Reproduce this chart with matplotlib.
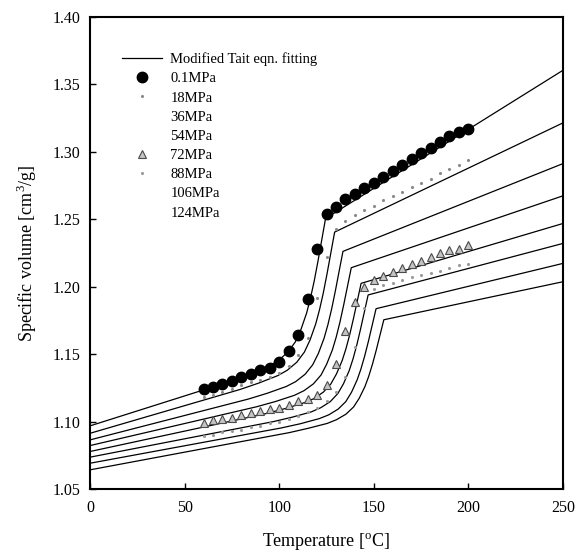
import matplotlib
matplotlib.use('Agg')
import matplotlib.pyplot as plt
from matplotlib.lines import Line2D

plt.rcParams['font.family'] = ['Liberation Serif', 'DejaVu Serif']
plt.rcParams['mathtext.fontset'] = 'custom'
plt.rcParams['mathtext.rm'] = 'Liberation Serif'

# ─── Modified Tait fits, one isobar each (T in degC, v in cm3/g) ──────────────
fit_T_01 = [0, 74.5, 84.5, 94.5, 99.5, 104.5, 108.5, 111.5, 114.5, 116.5, 118.5, 120.5, 122.5, 124.5, 250]
fit_V_01 = [1.0968, 1.1299, 1.1350, 1.1410, 1.1452, 1.1514, 1.1590, 1.1683, 1.1805, 1.1914, 1.2042, 1.2190, 1.2348, 1.2506, 1.3605]
fit_T_18 = [0, 79.3, 89.3, 99.3, 104.3, 109.3, 113.3, 116.3, 119.3, 121.3, 123.3, 125.3, 127.3, 129.3, 250]
fit_V_18 = [1.0913, 1.1238, 1.1286, 1.1341, 1.1381, 1.1440, 1.1515, 1.1605, 1.1724, 1.1829, 1.1953, 1.2097, 1.2251, 1.2405, 1.3215]
fit_T_36 = [0, 83.7, 93.7, 103.7, 108.7, 113.7, 117.7, 120.7, 123.7, 125.7, 127.7, 129.7, 131.7, 133.7, 250]
fit_V_36 = [1.0864, 1.1167, 1.1210, 1.1260, 1.1296, 1.1351, 1.1421, 1.1505, 1.1617, 1.1716, 1.1834, 1.1970, 1.2117, 1.2262, 1.2913]
fit_T_54 = [0, 88.1, 98.1, 108.1, 113.1, 118.1, 122.1, 125.1, 128.1, 130.1, 132.1, 134.1, 136.1, 138.1, 250]
fit_V_54 = [1.0822, 1.1110, 1.1149, 1.1195, 1.1229, 1.1280, 1.1345, 1.1426, 1.1531, 1.1625, 1.1737, 1.1866, 1.2004, 1.2141, 1.2674]
fit_T_72 = [0, 93.3, 103.3, 113.3, 118.3, 123.3, 127.3, 130.3, 133.3, 135.3, 137.3, 139.3, 141.3, 143.3, 250]
fit_V_72 = [1.0778, 1.1060, 1.1097, 1.1140, 1.1170, 1.1218, 1.1279, 1.1354, 1.1453, 1.1541, 1.1646, 1.1767, 1.1896, 1.2025, 1.2469]
fit_T_88 = [0, 97, 107, 117, 122, 127, 131, 134, 137, 139, 141, 143, 145, 147, 250]
fit_V_88 = [1.0736, 1.1000, 1.1033, 1.1072, 1.1103, 1.1148, 1.1208, 1.1281, 1.1378, 1.1464, 1.1567, 1.1686, 1.1812, 1.1939, 1.2321]
fit_T_106 = [0, 101.2, 111.2, 121.2, 126.2, 131.2, 135.2, 138.2, 141.2, 143.2, 145.2, 147.2, 149.2, 151.2, 250]
fit_V_106 = [1.0691, 1.0953, 1.0984, 1.1022, 1.1050, 1.1093, 1.1148, 1.1217, 1.1309, 1.1390, 1.1487, 1.1598, 1.1718, 1.1837, 1.2173]
fit_T_124 = [0, 105.3, 115.3, 125.3, 130.3, 135.3, 139.3, 142.3, 145.3, 147.3, 149.3, 151.3, 153.3, 155.3, 250]
fit_V_124 = [1.0642, 1.0918, 1.0950, 1.0986, 1.1014, 1.1055, 1.1108, 1.1173, 1.1259, 1.1335, 1.1426, 1.1530, 1.1643, 1.1755, 1.2037]

# ─── Measured PVT points ──────────────────────────────────────────────────────
meas_T = [60, 65, 70, 75, 80, 85, 90, 95, 100, 105, 110, 115, 120, 125, 130,
          135, 140, 145, 150, 155, 160, 165, 170, 175, 180, 185, 190, 195, 200]
meas_V_01 = [1.124, 1.126, 1.128, 1.130, 1.133, 1.135, 1.138, 1.140, 1.144, 1.152,
             1.164, 1.191, 1.228, 1.254, 1.259, 1.265, 1.269, 1.273, 1.277, 1.281,
             1.286, 1.290, 1.295, 1.299, 1.303, 1.307, 1.312, 1.315, 1.317]
meas_V_18 = [1.118, 1.120, 1.122, 1.124, 1.127, 1.129, 1.131, 1.133, 1.136, 1.141,
             1.149, 1.162, 1.192, 1.222, 1.243, 1.249, 1.253, 1.257, 1.260, 1.264,
             1.267, 1.270, 1.274, 1.277, 1.280, 1.284, 1.287, 1.290, 1.294]
meas_V_72 = [1.099, 1.101, 1.102, 1.103, 1.105, 1.106, 1.108, 1.109, 1.110, 1.112,
             1.115, 1.117, 1.120, 1.127, 1.143, 1.167, 1.189, 1.200, 1.205, 1.208,
             1.211, 1.214, 1.217, 1.219, 1.222, 1.225, 1.227, 1.228, 1.231]
meas_V_88 = [1.089, 1.090, 1.092, 1.093, 1.094, 1.096, 1.097, 1.099, 1.100, 1.102,
             1.104, 1.107, 1.110, 1.115, 1.122, 1.133, 1.155, 1.184, 1.198, 1.201,
             1.203, 1.205, 1.207, 1.209, 1.210, 1.212, 1.214, 1.216, 1.217]

pressure_labels = ['0.1MPa', '18MPa', '36MPa', '54MPa', '72MPa', '88MPa', '106MPa', '124MPa']

fits = [(fit_T_01, fit_V_01), (fit_T_18, fit_V_18), (fit_T_36, fit_V_36),
        (fit_T_54, fit_V_54), (fit_T_72, fit_V_72), (fit_T_88, fit_V_88),
        (fit_T_106, fit_V_106), (fit_T_124, fit_V_124)]

fig = plt.figure(figsize=(5.85, 5.58), dpi=100)
ax = fig.add_axes([90/585, 1 - 489/558, 473/585, 472/558])

for t, v in fits:
    ax.plot(t, v, color='black', lw=0.9, zorder=2)

# measured symbols
ax.plot(meas_T, meas_V_18, ls='none', marker='.', ms=2.5, color='#8a8a8a', zorder=3)
ax.plot(meas_T, meas_V_88, ls='none', marker='.', ms=2.5, color='#9a9a9a', zorder=3)
ax.plot(meas_T, meas_V_72, ls='none', marker='^', ms=6, mfc='#c4c4c4', mec='#4a4a4a',
        mew=0.8, zorder=4)
ax.plot(meas_T, meas_V_01, ls='none', marker='o', ms=7.5, color='black', zorder=5)

ax.set_xlim(0, 250)
ax.set_ylim(1.05, 1.40)
ax.set_xticks([0, 50, 100, 150, 200, 250])
ax.set_yticks([1.05, 1.10, 1.15, 1.20, 1.25, 1.30, 1.35, 1.40])
ax.set_yticklabels([f'{y:.2f}' for y in ax.get_yticks()])
ax.tick_params(direction='in', length=4, width=1, labelsize=11.5, pad=7)
ax.tick_params(axis='x', pad=8)
for s in ax.spines.values():
    s.set_linewidth(1.5)

ax.set_xlabel(r'Temperature [$^{\rm o}$C]', fontsize=13, labelpad=11)
ax.set_ylabel(r'Specific volume [cm$^3$/g]', fontsize=13, labelpad=10)

# legend: fit line, then one row per pressure
handles = [Line2D([], [], color='black', lw=0.9),
           Line2D([], [], ls='none', marker='o', ms=7.5, color='black'),
           Line2D([], [], ls='none', marker='.', ms=2.5, color='#8a8a8a'),
           Line2D([], [], ls='none', marker='None'),
           Line2D([], [], ls='none', marker='None'),
           Line2D([], [], ls='none', marker='^', ms=6, mfc='#c4c4c4', mec='#4a4a4a', mew=0.8),
           Line2D([], [], ls='none', marker='.', ms=2.5, color='#9a9a9a'),
           Line2D([], [], ls='none', marker='None'),
           Line2D([], [], ls='none', marker='None')]
labels = ['Modified Tait eqn. fitting'] + pressure_labels
ax.legend(handles, labels, loc='upper left', bbox_to_anchor=(0.068, 0.925),
          frameon=False, fontsize=10.5, handlelength=2.7, handletextpad=0.6,
          labelspacing=0.41, borderpad=0, borderaxespad=0)

fig.savefig('out.png', dpi=100, facecolor='white')
